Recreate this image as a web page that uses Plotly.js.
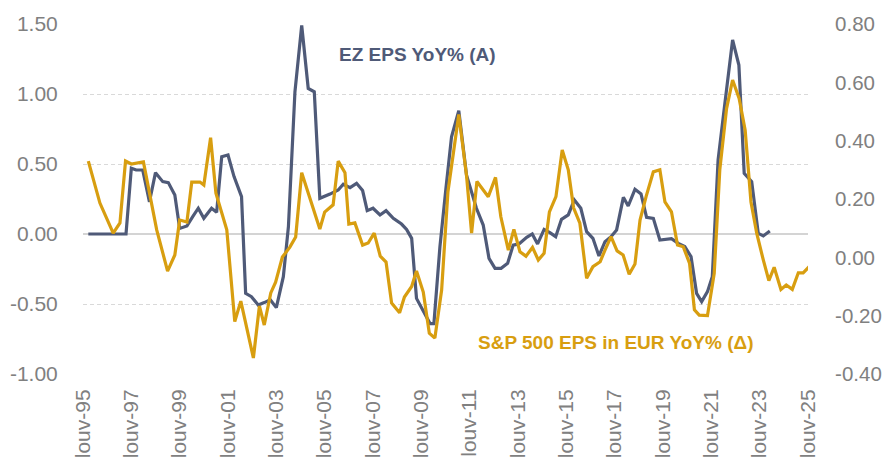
<!DOCTYPE html>
<html>
<head>
<meta charset="utf-8">
<script src="https://cdn.plot.ly/plotly-3.0.1.min.js"></script>
<style>html,body{margin:0;padding:0;background:#fff;}#chart{width:883px;height:462px;}</style>
</head>
<body>
<div id="chart"></div>
<script>
// EZ EPS YoY% (left axis)
const ezDates = [1995.22,1996.78,1997.00,1997.20,1997.47,1997.75,1998.00,1998.30,1998.53,1998.80,1999.00,1999.30,1999.54,1999.77,2000.00,2000.32,2000.53,2000.74,2001.00,2001.25,2001.56,2001.73,2001.97,2002.25,2002.50,2002.75,2003.00,2003.29,2003.50,2003.77,2004.05,2004.32,2004.57,2004.80,2005.22,2005.56,2005.77,2006.05,2006.32,2006.57,2006.76,2007.00,2007.29,2007.54,2007.84,2008.18,2008.39,2008.60,2008.80,2009.15,2009.36,2009.52,2009.77,2010.02,2010.25,2010.55,2010.87,2011.28,2011.56,2011.80,2012.05,2012.30,2012.57,2012.80,2013.04,2013.36,2013.59,2013.81,2014.08,2014.32,2014.56,2014.80,2015.08,2015.33,2015.60,2015.84,2016.10,2016.35,2016.60,2016.85,2017.08,2017.36,2017.56,2017.84,2018.09,2018.32,2018.60,2018.87,2019.35,2019.63,2019.90,2020.16,2020.39,2020.60,2020.84,2021.04,2021.28,2021.56,2021.88,2022.14,2022.36,2022.67,2022.94,2023.15,2023.42];
const ezValues = [0,0,0.47,0.457,0.457,0.23,0.438,0.374,0.367,0.279,0.04,0.057,0.124,0.184,0.112,0.184,0.155,0.552,0.564,0.41,0.267,-0.424,-0.448,-0.507,-0.49,-0.47,-0.526,-0.305,0.052,1.016,1.49,1.04,1.016,0.255,0.285,0.314,0.355,0.331,0.362,0.31,0.167,0.184,0.136,0.167,0.112,0.071,0.033,-0.031,-0.46,-0.58,-0.64,-0.64,-0.09,0.33,0.695,0.88,0.42,0.184,0.064,-0.174,-0.245,-0.245,-0.21,-0.079,-0.071,-0.024,0.0,-0.071,0.033,0.01,-0.019,0.105,0.136,0.243,0.184,0.017,-0.031,-0.157,-0.055,-0.019,0.029,0.262,0.2,0.319,0.286,0.119,0.112,-0.043,-0.033,-0.067,-0.09,-0.162,-0.424,-0.483,-0.412,-0.305,0.529,0.933,1.386,1.207,0.433,0.374,0.005,-0.014,0.021];

// S&P 500 EPS in EUR YoY% (right axis)
const spDates = [1995.22,1995.70,1996.25,1996.53,1996.76,1997.00,1997.50,1998.05,1998.50,1998.80,1999.00,1999.30,1999.50,1999.84,2000.00,2000.28,2000.50,2000.95,2001.28,2001.53,2002.05,2002.30,2002.50,2002.77,2002.97,2003.25,2003.56,2003.80,2004.05,2004.45,2004.80,2005.00,2005.35,2005.56,2005.84,2006.00,2006.25,2006.57,2006.80,2007.05,2007.30,2007.54,2007.77,2008.10,2008.30,2008.60,2008.80,2009.08,2009.33,2009.56,2009.84,2010.10,2010.55,2010.87,2011.08,2011.30,2011.77,2012.07,2012.29,2012.60,2012.83,2013.08,2013.33,2013.60,2013.84,2014.08,2014.30,2014.57,2014.83,2015.08,2015.30,2015.56,2015.84,2016.10,2016.40,2016.60,2016.85,2017.10,2017.35,2017.60,2017.84,2018.05,2018.30,2018.60,2018.87,2019.08,2019.35,2019.60,2019.84,2020.10,2020.30,2020.50,2020.84,2021.12,2021.35,2021.63,2021.88,2022.15,2022.40,2022.64,2022.88,2023.15,2023.38,2023.60,2023.88,2024.10,2024.35,2024.60,2024.80,2025.05];
const spValues = [0.33,0.186,0.083,0.118,0.33,0.32,0.327,0.094,-0.047,0.008,0.128,0.121,0.258,0.258,0.248,0.41,0.22,0.094,-0.22,-0.15,-0.345,-0.167,-0.232,-0.122,-0.085,0.001,0.035,0.07,0.29,0.19,0.097,0.155,0.18,0.33,0.29,0.114,0.118,0.042,0.049,0.083,0.004,-0.016,-0.157,-0.19,-0.136,-0.10,-0.047,-0.119,-0.26,-0.277,-0.112,0.224,0.49,0.28,0.083,0.26,0.208,0.274,0.139,0.025,0.096,0.019,0.004,0.034,-0.009,0.014,0.156,0.208,0.368,0.30,0.17,0.117,-0.072,-0.032,-0.015,0.025,0.071,0.022,0.008,-0.058,-0.023,0.128,0.208,0.293,0.30,0.19,0.156,0.042,0.036,-0.021,-0.18,-0.198,-0.20,-0.055,0.30,0.51,0.608,0.545,0.436,0.19,0.082,-0.009,-0.08,-0.034,-0.11,-0.095,-0.11,-0.053,-0.053,-0.032];

const xTickVals = [1995,1997,1999,2001,2003,2005,2007,2009,2011,2013,2015,2017,2019,2021,2023,2025];
const xTickText = ['louv-95','louv-97','louv-99','louv-01','louv-03','louv-05','louv-07','louv-09','louv-11','louv-13','louv-15','louv-17','louv-19','louv-21','louv-23','louv-25'];
const yTickVals = [-1,-0.5,0,0.5,1,1.5];
const yTickText = ['-1.00','-0.50','0.00','0.50','1.00','1.50'];
const y2TickVals = [-0.4,-0.2,0,0.2,0.4,0.6,0.8];
const y2TickText = ['-0.40','-0.20','0.00','0.20','0.40','0.60','0.80'];

const BLUE = '#4f5a78';
const GOLD = '#d89e10';
const TICK = '#808080';
const FONT = 'Liberation Sans, Arial, sans-serif';

const traces = [
  {x: ezDates, y: ezValues, type: 'scatter', mode: 'lines', name: 'EZ EPS YoY% (A)',
   line: {color: BLUE, width: 3.2}, yaxis: 'y', hoverinfo: 'skip'},
  {x: spDates, y: spValues, type: 'scatter', mode: 'lines', name: 'S&P 500 EPS in EUR YoY% (Δ)',
   line: {color: GOLD, width: 3.2}, yaxis: 'y2', hoverinfo: 'skip'}
];

const layout = {
  width: 883, height: 462,
  margin: {l: 83, r: 75, t: 24, b: 88, pad: 0},
  paper_bgcolor: '#ffffff', plot_bgcolor: '#ffffff',
  showlegend: false,
  font: {family: FONT, color: TICK, size: 21},
  xaxis: {
    range: [1995, 2025], tickvals: xTickVals, ticktext: xTickText, tickangle: -90,
    showgrid: false, zeroline: false, showline: false,
    ticks: 'outside', ticklen: 6, tickcolor: 'rgba(0,0,0,0)',
    tickfont: {family: FONT, size: 21, color: TICK}, automargin: false
  },
  yaxis: {
    range: [-1, 1.5], tickvals: yTickVals, ticktext: yTickText,
    showgrid: true, gridcolor: '#d9d9d9', gridwidth: 1, griddash: '4px,3px',
    zeroline: true, zerolinecolor: '#d4d4d4', zerolinewidth: 2,
    showline: false, ticks: 'outside', ticklen: 20, tickcolor: 'rgba(0,0,0,0)',
    tickfont: {family: FONT, size: 21, color: TICK}, automargin: false
  },
  yaxis2: {
    range: [-0.4, 0.8], tickvals: y2TickVals, ticktext: y2TickText,
    overlaying: 'y', side: 'right', showgrid: false, zeroline: false, showline: false,
    ticks: 'outside', ticklen: 22, tickcolor: 'rgba(0,0,0,0)',
    tickfont: {family: FONT, size: 20.5, color: TICK}, automargin: false
  },
  annotations: [
    {text: '<b>EZ EPS YoY% (A)</b>', xref: 'paper', yref: 'paper', x: 0.462, y: 0.914,
     xanchor: 'center', yanchor: 'middle', showarrow: false,
     font: {family: FONT, size: 19, color: BLUE}},
    {text: '<b>S&amp;P 500 EPS in EUR YoY% (Δ)</b>', xref: 'paper', yref: 'paper', x: 0.735, y: 0.089,
     xanchor: 'center', yanchor: 'middle', showarrow: false,
     font: {family: FONT, size: 19, color: GOLD}}
  ]
};

Plotly.newPlot('chart', traces, layout, {staticPlot: true, displayModeBar: false});
</script>
</body>
</html>
